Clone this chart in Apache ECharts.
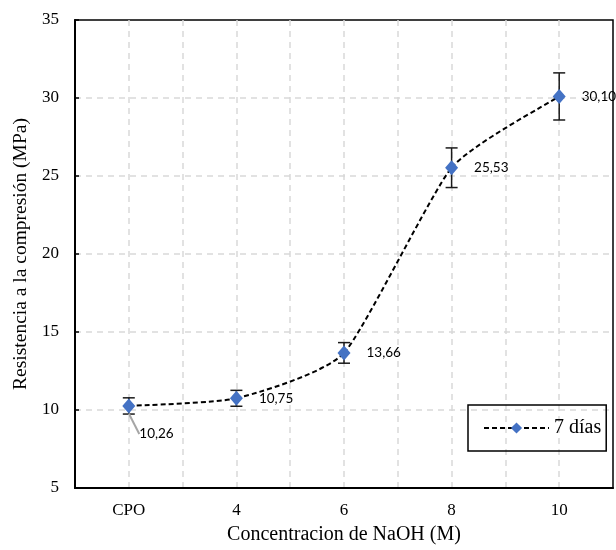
<!DOCTYPE html>
<html>
<head>
<meta charset="utf-8">
<script src="https://cdn.jsdelivr.net/npm/echarts@6/dist/echarts.min.js"></script>
<style>
  html, body { margin: 0; padding: 0; background: #fff; }
  #chart { width: 616px; height: 550px; }
</style>
</head>
<body>
<div id="chart"></div>
<script>
// datos
const categorias = ['CPO', '4', '6', '8', '10'];
const resistencia = [10.26, 10.75, 13.66, 25.53, 30.10];
const errores = [0.52, 0.51, 0.66, 1.27, 1.51];
const yTicks = [5, 10, 15, 20, 25, 30, 35];

const serif = 'Liberation Serif';
const fmt = v => v.toFixed(2).replace('.', ',');

const puntos = resistencia.map((v, i) => i === 0
  ? { value: [i, v], labelLine: { show: true } }
  : { value: [i, v] });
const barras = resistencia.map((v, i) => [i, v - errores[i], v + errores[i]]);
const tramos = resistencia.slice(0, -1).map((v, i) => [i, v]);

const chart = echarts.init(document.getElementById('chart'));

// curva suavizada (poco) entre puntos, en pixeles
const tension = 0.09;
function renderTramo(params, api) {
  const i = api.value(0);
  const n = resistencia.length;
  const p = k => {
    const j = Math.max(0, Math.min(n - 1, k));
    return api.coord([j, resistencia[j]]);
  };
  const p0 = p(i - 1), p1 = p(i), p2 = p(i + 1), p3 = p(i + 2);
  const c1 = [p1[0] + (p2[0] - p0[0]) * tension, p1[1] + (p2[1] - p0[1]) * tension];
  const c2 = [p2[0] - (p3[0] - p1[0]) * tension, p2[1] - (p3[1] - p1[1]) * tension];
  return {
    type: 'bezierCurve',
    shape: { x1: p1[0], y1: p1[1], x2: p2[0], y2: p2[1], cpx1: c1[0], cpy1: c1[1], cpx2: c2[0], cpy2: c2[1] },
    style: { stroke: '#000', fill: null, lineWidth: 2, lineDash: [5, 3] }
  };
}

chart.setOption({
  animation: false,
  grid: {
    left: 75, right: 1, top: 20, bottom: 62,
    show: true, borderColor: '#000', borderWidth: 1.5
  },
  legend: {
    data: ['7 días'],
    left: 468, top: 405,
    padding: [13, 5, 13, 15],
    itemWidth: 65, itemHeight: 14, itemGap: 5,
    borderColor: '#000', borderWidth: 1.5,
    lineStyle: { color: '#000', width: 2, type: [5, 3], opacity: 1 },
    textStyle: { fontFamily: serif, fontSize: 20, color: '#000' }
  },
  xAxis: [{
    type: 'value',
    min: -0.5, max: 4.5, interval: 0.5,
    name: 'Concentracion de NaOH (M)',
    nameLocation: 'middle', nameGap: 37,
    nameTextStyle: { fontFamily: serif, fontSize: 20, color: '#000' },
    axisLine: { onZero: false, lineStyle: { color: '#000', width: 2 } },
    axisTick: { show: false },
    axisLabel: {
      margin: 14, fontFamily: serif, fontSize: 17, color: '#000',
      formatter: v => Number.isInteger(v) ? categorias[v] : ''
    },
    splitLine: {
      show: true, showMinLine: false, showMaxLine: false,
      lineStyle: { color: '#d9d9d9', width: 1.5, type: [6, 5] }
    }
  }, {
    type: 'category',
    data: categorias,
    position: 'bottom',
    axisLine: { show: false },
    axisLabel: { show: false },
    axisTick: { inside: true, alignWithLabel: true, length: 4, lineStyle: { color: '#000', width: 1.5 } },
    splitLine: { show: false }
  }],
  yAxis: {
    type: 'value',
    min: yTicks[0], max: yTicks[yTicks.length - 1], interval: 5,
    name: 'Resistencia a la compresión (MPa)',
    nameLocation: 'middle', nameGap: 41,
    nameTextStyle: { fontFamily: serif, fontSize: 19.5, color: '#000' },
    axisLine: { show: true, onZero: false, lineStyle: { color: '#000', width: 2 } },
    axisTick: { show: true, inside: true, length: 4, lineStyle: { color: '#000', width: 1.5 } },
    axisLabel: { margin: 16, fontFamily: serif, fontSize: 17, color: '#000' },
    splitLine: {
      show: true, showMinLine: false, showMaxLine: false,
      lineStyle: { color: '#d9d9d9', width: 1.5, type: [6, 5] }
    }
  },
  series: [{
    type: 'custom',
    name: 'curva',
    xAxisIndex: 0,
    data: tramos,
    z: 2,
    renderItem: renderTramo
  }, {
    type: 'custom',
    name: 'error',
    xAxisIndex: 0,
    data: barras,
    z: 3,
    renderItem: (params, api) => {
      const x = api.value(0);
      const lo = api.coord([x, api.value(1)]);
      const hi = api.coord([x, api.value(2)]);
      const w = 6;
      const st = { stroke: '#1a1a1a', lineWidth: 1.5 };
      return {
        type: 'group',
        children: [
          { type: 'line', shape: { x1: lo[0], y1: lo[1], x2: hi[0], y2: hi[1] }, style: st },
          { type: 'line', shape: { x1: lo[0] - w, y1: lo[1], x2: lo[0] + w, y2: lo[1] }, style: st },
          { type: 'line', shape: { x1: hi[0] - w, y1: hi[1], x2: hi[0] + w, y2: hi[1] }, style: st }
        ]
      };
    }
  }, {
    type: 'line',
    name: '7 días',
    xAxisIndex: 0,
    data: puntos,
    z: 4,
    symbol: 'diamond',
    symbolSize: [13, 15],
    itemStyle: { color: '#4472C4' },
    lineStyle: { color: '#000', width: 2, type: [5, 3], opacity: 0 },
    label: {
      show: true, position: 'right', distance: 16,
      fontFamily: 'Lato', fontSize: 13.5, color: '#000',
      formatter: p => fmt(p.value[1])
    },
    labelLine: { show: false, lineStyle: { color: '#a6a6a6', width: 2 } },
    labelLayout: p => p.dataIndex === 0 ? { dx: -12, dy: 28 } : {}
  }]
});
</script>
</body>
</html>
